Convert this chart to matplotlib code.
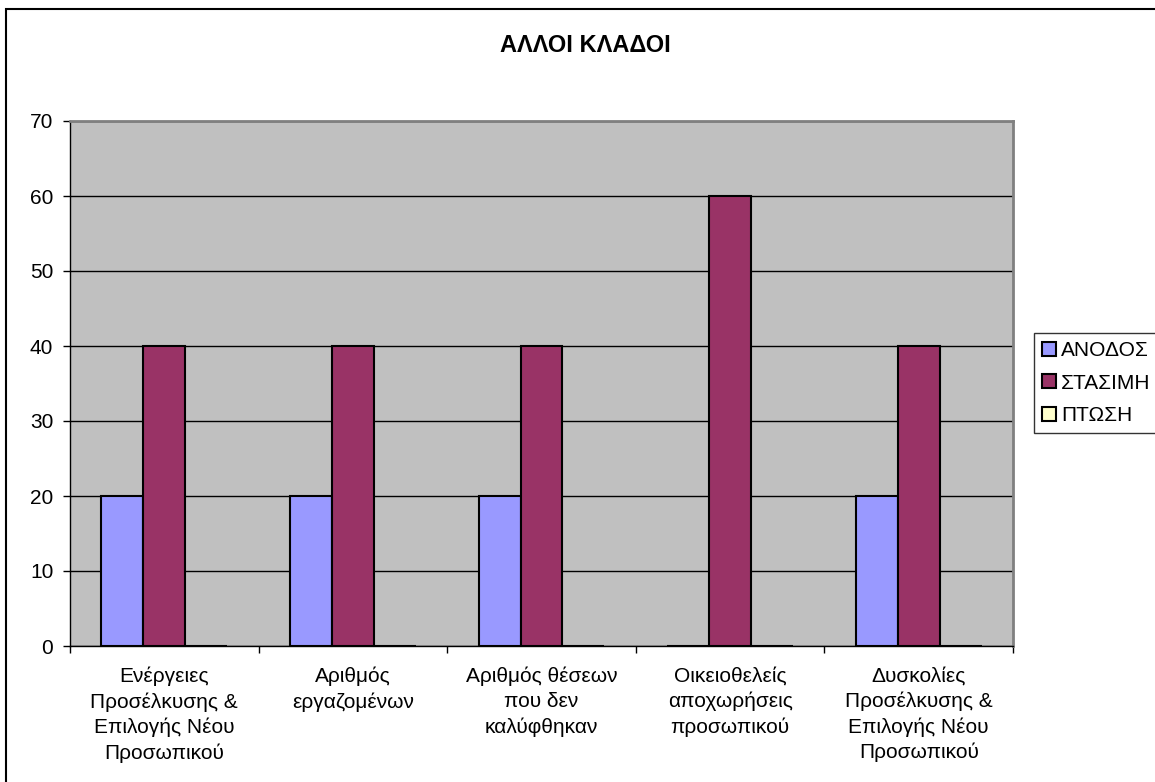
import matplotlib
matplotlib.use('Agg')
import matplotlib.pyplot as plt
import numpy as np
from matplotlib.patches import Rectangle

plt.rcParams['font.family'] = ['Liberation Sans', 'DejaVu Sans']

# Δεδομένα
categories = ['Ενέργειες\nΠροσέλκυσης &\nΕπιλογής Νέου\nΠροσωπικού',
              'Αριθμός\nεργαζομένων',
              'Αριθμός θέσεων\nπου δεν\nκαλύφθηκαν',
              'Οικειοθελείς\nαποχωρήσεις\nπροσωπικού',
              'Δυσκολίες\nΠροσέλκυσης &\nΕπιλογής Νέου\nΠροσωπικού']
anodos = [20, 20, 20, 0, 20]
stasimi = [40, 40, 40, 60, 40]
ptosi = [0, 0, 0, 0, 0]
series_names = ['ΑΝΟΔΟΣ', 'ΣΤΑΣΙΜΗ', 'ΠΤΩΣΗ']
colors = ['#9999FF', '#993366', '#FFFFCC']

fig = plt.figure(figsize=(11.55, 7.82), dpi=100)
ax = fig.add_axes([70 / 1155, 1 - 646 / 782, 943 / 1155, 525 / 782])
ax.set_facecolor('#C0C0C0')

x = np.arange(len(categories))
w = 0.222
for i, (vals, name, c) in enumerate(zip([anodos, stasimi, ptosi], series_names, colors)):
    ax.bar(x + (i - 1) * w, vals, width=w, color=c, edgecolor='black', linewidth=1.5,
           label=name, zorder=3)

ax.set_xlim(-0.5, len(categories) - 0.5)
ax.set_ylim(0, 70)
ax.set_yticks(range(0, 71, 10))
ax.yaxis.grid(True, color='black', linewidth=1, zorder=1)
ax.set_axisbelow(True)

# тики по границам категорий
ax.set_xticks(np.arange(-0.5, len(categories), 1))
ax.set_xticklabels([])
ax.set_xticks(x, minor=True)
ax.set_xticklabels(categories, minor=True, fontsize=15, linespacing=1.39)
ax.tick_params(axis='x', which='minor', length=0, pad=15)
ax.tick_params(axis='x', which='major', length=5, width=1, direction='out')
ax.tick_params(axis='y', length=5, width=1, labelsize=15, pad=7)

for s in ['top', 'right']:
    ax.spines[s].set_color('#808080')
    ax.spines[s].set_linewidth(2)
for s in ['left', 'bottom']:
    ax.spines[s].set_color('black')
    ax.spines[s].set_linewidth(1)

fig.text(0.5 + 8 / 1155, 1 - 46 / 782, 'ΑΛΛΟΙ ΚΛΑΔΟΙ', ha='center', va='center',
         fontsize=17, fontweight='bold')

leg = ax.legend(loc='upper left', bbox_to_anchor=(1034 / 1155, 1 - 333 / 782),
                bbox_transform=fig.transFigure, frameon=True, fontsize=15,
                handlelength=0.67, handleheight=0.67, handletextpad=0.25,
                borderaxespad=0, borderpad=0.38, labelspacing=0.66, fancybox=False)
leg.get_frame().set_edgecolor('black')
leg.get_frame().set_linewidth(1)
for h in leg.legend_handles:
    h.set_linewidth(1.5)

# рамка вокруг всей диаграммы
fig.patches.append(Rectangle((6 / 1155, -0.1), 1.2, 1.1 - 9 / 782,
                             transform=fig.transFigure, fill=False,
                             edgecolor='black', linewidth=1.5, clip_on=False))

fig.savefig('out.png', dpi=100)
